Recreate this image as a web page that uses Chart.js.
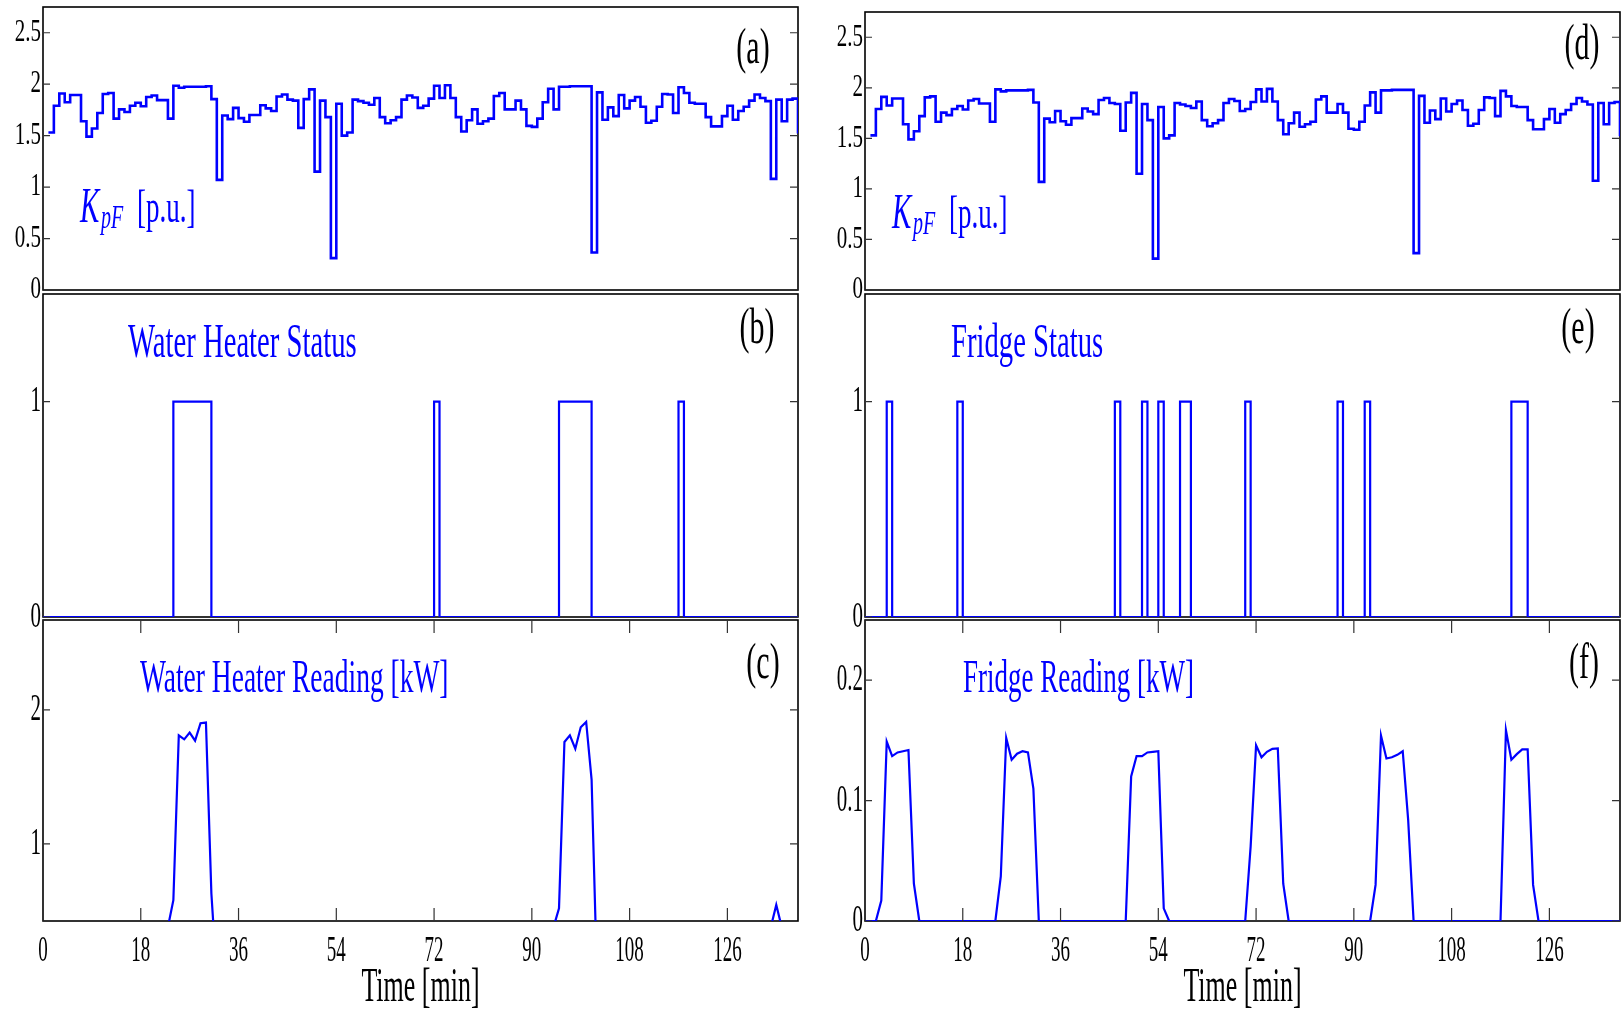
<!DOCTYPE html>
<html>
<head>
<meta charset="utf-8">
<script src="https://cdn.jsdelivr.net/npm/chart.js@4.4.1/dist/chart.umd.min.js"></script>
<style>
  body { margin: 0; background: #fff; }
  #fig { position: relative; width: 1621px; height: 1011px; overflow: hidden; background: #fff; }
  #fig canvas { position: absolute; }
</style>
</head>
<body>
<div id="fig">
  <canvas id="a" width="810" height="310" style="left:0px;top:0px"></canvas>
  <canvas id="d" width="811" height="310" style="left:810px;top:0px"></canvas>
  <canvas id="b" width="810" height="350" style="left:0px;top:280px"></canvas>
  <canvas id="e" width="811" height="350" style="left:810px;top:280px"></canvas>
  <canvas id="c" width="810" height="411" style="left:0px;top:600px"></canvas>
  <canvas id="f" width="811" height="411" style="left:810px;top:600px"></canvas>
</div>
<script>
var SERIF = "'Liberation Serif', 'DejaVu Serif', serif";
var BLUE = '#0000ff';

// tick positions
var timeTicks = [0, 18, 36, 54, 72, 90, 108, 126];
var kpfTicks = [0, 0.5, 1, 1.5, 2, 2.5];
var statusTicks = [0, 1];
var whReadTicks = [1, 2];
var frReadTicks = [0, 0.1, 0.2];

// K_pF, one value per minute starting at minute 1
var kpfStart = 1;
var kpf = [
  1.53, 1.79, 1.91, 1.825, 1.895, 1.895, 1.64, 1.49, 1.57, 1.72,
  1.905, 1.915, 1.665, 1.755, 1.73, 1.79, 1.82, 1.785, 1.875, 1.89,
  1.845, 1.845, 1.665, 1.985, 1.965, 1.975, 1.975, 1.975, 1.975, 1.98,
  1.855, 1.07, 1.695, 1.66, 1.77, 1.67, 1.635, 1.70, 1.70, 1.795,
  1.765, 1.74, 1.88, 1.90, 1.85, 1.84, 1.575, 1.855, 1.95, 1.15,
  1.84, 1.68, 0.31, 1.81, 1.50, 1.53, 1.85, 1.835, 1.82, 1.80,
  1.865, 1.68, 1.62, 1.65, 1.68, 1.85, 1.89, 1.87, 1.77, 1.79,
  1.86, 1.985, 1.865, 1.99, 1.865, 1.68, 1.54, 1.65, 1.755, 1.615,
  1.64, 1.665, 1.885, 1.915, 1.755, 1.755, 1.84, 1.755, 1.595, 1.585,
  1.665, 1.825, 1.955, 1.755, 1.975, 1.975, 1.98, 1.98, 1.98, 1.98,
  0.365, 1.92, 1.655, 1.775, 1.69, 1.895, 1.765, 1.84, 1.875, 1.78,
  1.625, 1.645, 1.78, 1.905, 1.90, 1.72, 1.97, 1.915, 1.82, 1.81,
  1.81, 1.68, 1.59, 1.59, 1.69, 1.79, 1.655, 1.74, 1.78, 1.84,
  1.90, 1.865, 1.835, 1.08, 1.85, 1.64, 1.85, 1.86, 1.52
];

// on/off switching times [min] and the status from that time on
var whTimes  = [0, 24, 31, 72, 73, 95, 101, 117, 118, 139];
var whStatus = [0, 1, 0, 1, 0, 1, 0, 1, 0, 0];
var frTimes  = [0, 4, 5, 17, 18, 46, 47, 51, 52, 54, 55, 58, 60, 70, 71, 87, 88, 92, 93, 119, 122, 139];
var frStatus = [0, 1, 0, 1, 0, 1, 0, 1, 0, 1, 0, 1, 0, 1, 0, 1, 0, 1, 0, 1, 0, 0];

// meter readings [kW]
var whReadTime = [0, 22, 23, 24, 25, 26, 27, 28, 29, 30, 31, 32,
  93, 94, 95, 96, 97, 98, 99, 100, 101, 102, 133, 134, 135, 136, 139];
var whReadKW = [0, 0, 0.38, 0.58, 1.81, 1.78, 1.83, 1.77, 1.90, 1.905, 0.63, 0,
  0, 0.38, 0.52, 1.76, 1.81, 1.71, 1.87, 1.91, 1.48, 0, 0, 0.38, 0.545, 0.38, 0];

var frReadTime = [0, 2, 3, 4, 5, 6, 7, 8, 9, 10,
  24, 25, 26, 27, 28, 29, 30, 31, 32,
  48, 49, 50, 51, 52, 53, 54, 55, 56,
  70, 71, 72, 73, 74, 75, 76, 77, 78,
  93, 94, 95, 96, 97, 98, 99, 100, 101,
  117, 118, 119, 120, 121, 122, 123, 124, 139];
var frReadKW = [0, 0, 0.017, 0.149, 0.137, 0.140, 0.141, 0.142, 0.031, 0,
  0, 0.037, 0.152, 0.134, 0.139, 0.141, 0.140, 0.110, 0,
  0, 0.120, 0.137, 0.137, 0.140, 0.1405, 0.141, 0.0105, 0,
  0, 0.062, 0.146, 0.136, 0.1405, 0.143, 0.1433, 0.031, 0,
  0, 0.030, 0.154, 0.135, 0.136, 0.138, 0.141, 0.084, 0,
  0, 0.1585, 0.134, 0.1386, 0.1425, 0.1425, 0.030, 0, 0];

function points(xs, ys) {
  return xs.map(function (x, i) { return {x: x, y: ys[i]}; });
}
var kpfPoints = kpf.map(function (v, i) { return {x: kpfStart + i, y: v}; });

// the original figure is a vertically stretched matlab export, so text is tall and narrow
var LABEL_STRETCH = 1.72;
function tallText(ctx, k) {
  var fill = ctx.fillText;
  ctx.stretch = k;
  ctx.fillText = function (text, x, y, maxWidth) {
    this.save();
    this.translate(x, y);
    this.scale(1, this.stretch);
    if (maxWidth === undefined) fill.call(this, text, 0, 0);
    else fill.call(this, text, 0, 0, maxWidth);
    this.restore();
  };
}

function kLabel(x, y) {
  return [
    {text: 'K', x: x, y: y, size: 29, italic: true, color: BLUE},
    {text: 'pF', x: x + 21, y: y + 6, size: 20, italic: true, color: BLUE},
    {text: '[p.u.]', x: x + 57, y: y, size: 27, color: BLUE}
  ];
}

var panels = {
  a: {left: 0, top: 0, pad: {top: 7, right: 12, bottom: 20}, yWidth: 43,
      ymin: 0, ymax: 2.75, yTicks: kpfTicks, data: kpfPoints, lw: 2.6,
      stretch: 1.5, xAxis: false,
      labels: [{text: '(a)', x: 753, y: 63, size: 30, align: 'center', color: '#000'}].concat(kLabel(80, 222))},
  d: {left: 810, top: 0, pad: {top: 12, right: 1, bottom: 20}, yWidth: 55,
      ymin: 0, ymax: 2.75, yTicks: kpfTicks, data: kpfPoints, lw: 2.6,
      stretch: 1.5, xAxis: false,
      labels: [{text: '(d)', x: 1582, y: 59, size: 30, align: 'center', color: '#000'}].concat(kLabel(892, 228))},
  b: {left: 0, top: 280, pad: {top: 14, right: 12, bottom: 13}, yWidth: 43,
      ymin: 0, ymax: 1.5, yTicks: statusTicks, data: points(whTimes, whStatus), lw: 2.2,
      stretch: 1.75, xAxis: false,
      labels: [{text: 'Water Heater Status', x: 128, y: 357, size: 28.7, color: BLUE},
               {text: '(b)', x: 757, y: 343, size: 30, align: 'center', color: '#000'}]},
  e: {left: 810, top: 280, pad: {top: 14, right: 1, bottom: 13}, yWidth: 55,
      ymin: 0, ymax: 1.5, yTicks: statusTicks, data: points(frTimes, frStatus), lw: 2.2,
      stretch: 1.75, xAxis: false,
      labels: [{text: 'Fridge Status', x: 951, y: 357, size: 28.7, color: BLUE},
               {text: '(e)', x: 1578, y: 343, size: 30, align: 'center', color: '#000'}]},
  c: {left: 0, top: 600, pad: {top: 20, right: 12, bottom: 0}, yWidth: 43, xHeight: 90,
      ymin: 0.425, ymax: 2.67, yTicks: whReadTicks, data: points(whReadTime, whReadKW), lw: 2.2,
      linear: true, stretch: 1.85, xAxis: true,
      labels: [{text: 'Water Heater Reading [kW]', x: 140, y: 692, size: 27.5, color: BLUE},
               {text: '(c)', x: 763, y: 678, size: 30, align: 'center', color: '#000'}]},
  f: {left: 810, top: 600, pad: {top: 20, right: 1, bottom: 0}, yWidth: 55, xHeight: 90,
      ymin: 0, ymax: 0.25, yTicks: frReadTicks, data: points(frReadTime, frReadKW), lw: 2.2,
      linear: true, stretch: 1.85, xAxis: true,
      labels: [{text: 'Fridge Reading [kW]', x: 963, y: 692, size: 27, color: BLUE},
               {text: '(f)', x: 1584, y: 678, size: 30, align: 'center', color: '#000'}]}
};

var framePlugin = {
  id: 'frame',
  beforeDatasetsDraw: function (chart) {
    var a = chart.chartArea, ctx = chart.ctx;
    ctx.save();
    ctx.strokeStyle = '#000';
    ctx.lineWidth = 1.6;
    ctx.strokeRect(a.left, a.top, a.right - a.left, a.bottom - a.top);
    ctx.restore();
  },
  afterDraw: function (chart) {
    var p = panels[chart.canvas.id];
    var a = chart.chartArea, ctx = chart.ctx;
    var ys = chart.scales.y, xs = chart.scales.x;
    ctx.save();
    // inward tick marks, matlab style
    ctx.strokeStyle = '#333';
    ctx.lineWidth = 1.2;
    ctx.beginPath();
    ys.ticks.forEach(function (t) {
      var py = ys.getPixelForValue(t.value);
      ctx.moveTo(a.left, py); ctx.lineTo(a.left + 7, py);
      ctx.moveTo(a.right, py); ctx.lineTo(a.right - 8, py);
    });
    if (p.xAxis) {
      xs.ticks.forEach(function (t) {
        var px = xs.getPixelForValue(t.value);
        ctx.moveTo(px, a.bottom); ctx.lineTo(px, a.bottom - 13);
        ctx.moveTo(px, a.top); ctx.lineTo(px, a.top + 13);
      });
    }
    ctx.stroke();

    ctx.stretch = LABEL_STRETCH;
    ctx.textBaseline = 'alphabetic';
    p.labels.forEach(function (l) {
      ctx.font = (l.italic ? 'italic ' : '') + l.size + 'px ' + SERIF;
      ctx.fillStyle = l.color;
      ctx.textAlign = l.align || 'left';
      ctx.fillText(l.text, l.x - p.left, l.y - p.top);
    });
    ctx.stretch = p.stretch;
    ctx.restore();
  }
};

function makePanel(id) {
  var p = panels[id];
  var ctx = document.getElementById(id).getContext('2d');
  tallText(ctx, p.stretch);
  return new Chart(ctx, {
    type: 'line',
    data: {
      datasets: [{
        data: p.data,
        borderColor: BLUE,
        borderWidth: p.lw,
        pointRadius: 0,
        tension: 0,
        // stairs: each value holds until the next time
        stepped: p.linear ? false : 'before',
        fill: false
      }]
    },
    options: {
      responsive: false,
      animation: false,
      devicePixelRatio: 1,
      layout: {padding: {top: p.pad.top, right: p.pad.right, bottom: p.pad.bottom, left: 0}},
      plugins: {legend: {display: false}, tooltip: {enabled: false}},
      scales: {
        x: {
          type: 'linear', min: 0, max: 139,
          display: p.xAxis,
          afterBuildTicks: function (s) { s.ticks = timeTicks.map(function (v) { return {value: v}; }); },
          afterFit: function (s) {
            if (p.xAxis) s.height = p.xHeight;
            s.paddingLeft = 0; s.paddingRight = 0;
          },
          grid: {display: false, drawTicks: false},
          border: {display: false},
          ticks: {
            font: {family: SERIF, size: 19}, color: '#000', padding: 19,
            maxRotation: 0, autoSkip: false,
            callback: function (v) { return String(v); }
          },
          title: {
            display: p.xAxis, text: 'Time [min]', color: '#000',
            font: {family: SERIF, size: 26}, padding: {top: 0, bottom: 7}
          }
        },
        y: {
          type: 'linear', min: p.ymin, max: p.ymax,
          afterBuildTicks: function (s) { s.ticks = p.yTicks.map(function (v) { return {value: v}; }); },
          afterFit: function (s) { s.width = p.yWidth; s.paddingTop = 0; s.paddingBottom = 0; },
          grid: {display: false, drawTicks: false},
          border: {display: false},
          ticks: {
            font: {family: SERIF, size: 21}, color: '#000', padding: 2,
            autoSkip: false,
            callback: function (v) { return String(v); }
          }
        }
      }
    },
    plugins: [framePlugin]
  });
}

['a', 'd', 'b', 'e', 'c', 'f'].forEach(makePanel);
</script>
</body>
</html>
